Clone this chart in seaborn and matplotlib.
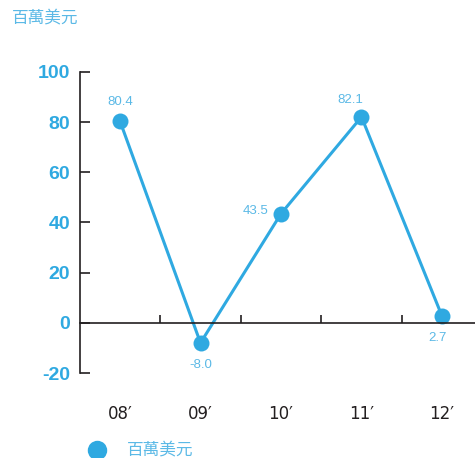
import matplotlib
matplotlib.use("Agg")
import matplotlib.pyplot as plt
import seaborn as sns
import pandas as pd
import numpy as np
from matplotlib.lines import Line2D

years = ["08′", "09′", "10′", "11′", "12′"]
values = [80.4, -8.0, 43.5, 82.1, 2.7]
value_labels = ["80.4", "-8.0", "43.5", "82.1", "2.7"]
yticks = [-20, 0, 20, 40, 60, 80, 100]
unit = "百萬美元"

sns.set_style("white")
plt.rcParams['font.family'] = ['Liberation Sans', 'Noto Sans CJK TC', 'DejaVu Sans']

BLUE = "#2fa9e1"
LIGHT = "#5bb9e6"
DARK = "#231f20"

fig = plt.figure(figsize=(4.75, 4.58), dpi=100)
ax = fig.add_axes([80/475, 85/458, 1 - 80/475, (373-72)/458])

df = pd.DataFrame({"idx": np.arange(len(years)), "val": values})
sns.lineplot(data=df, x="idx", y="val", ax=ax, color=BLUE, linewidth=2.2,
             marker="o", markersize=11.5, markeredgewidth=0, legend=False)

ax.set_xlim(-0.497, 4.41)
ax.set_ylim(-20, 100)
ax.set_yticks(yticks)
ax.set_yticklabels([str(t) for t in yticks], fontsize=14, fontweight="bold", color=BLUE)
ax.tick_params(axis="y", left=True, direction="in", length=7, width=1.2, color=DARK, pad=7)

for s in ["top", "right"]:
    ax.spines[s].set_visible(False)
ax.spines["left"].set_color(DARK)
ax.spines["left"].set_linewidth(1.2)
ax.spines["bottom"].set_position(("data", 0))
ax.spines["bottom"].set_color(DARK)
ax.spines["bottom"].set_linewidth(1.2)
ax.set_xticks([0.5, 1.5, 2.5, 3.5])
ax.set_xticklabels([])
ax.tick_params(axis="x", bottom=True, direction="in", length=6, width=1.2, color=DARK)
ax.set_xlabel("")
ax.set_ylabel("")

trans = ax.get_xaxis_transform()
for i, y in enumerate(years):
    ax.text(i, -0.135, y, transform=trans, ha="center", va="center",
            fontsize=12, color=DARK, family=['DejaVu Sans'])

# data labels (offsets in points)
offsets = [(0, 14, "center"), (0, -16, "center"), (-18, 2, "center"), (-8, 12, "center"), (-3, -16, "center")]
for i, (v, lab) in enumerate(zip(values, value_labels)):
    dx, dy, ha = offsets[i]
    ax.annotate(lab, (i, v), xytext=(dx, dy), textcoords="offset points",
                ha=ha, va="center", fontsize=9.5, color=LIGHT)

fig.text(12/475, 1 - 19/458, unit, ha="left", va="center", fontsize=12,
         color=LIGHT, family=['Noto Sans CJK TC'])

handle = Line2D([], [], color=BLUE, marker="o", linestyle="none", markersize=14, markeredgewidth=0)
leg = fig.legend([handle], [unit], loc="center left", bbox_to_anchor=(65/475, 1 - 451/458),
                 frameon=False, handletextpad=0.8, prop={'family': 'Noto Sans CJK TC', 'size': 12})
for t in leg.get_texts():
    t.set_color(LIGHT)

fig.savefig("out.png", dpi=100)
